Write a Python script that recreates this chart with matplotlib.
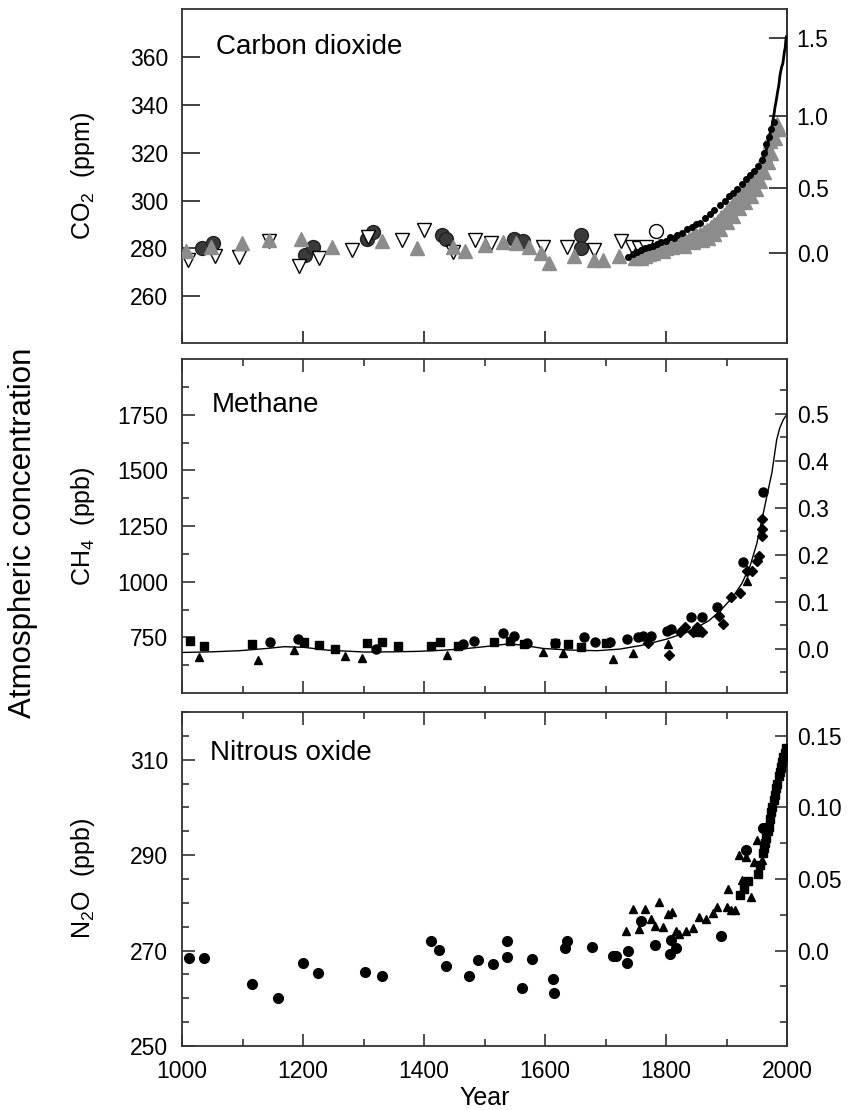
import numpy as np
import matplotlib
matplotlib.use("Agg")
import matplotlib.pyplot as plt
from matplotlib.ticker import MultipleLocator, FixedLocator

plt.rcParams['font.family'] = ['Liberation Sans', 'DejaVu Sans']
plt.rcParams['mathtext.fontset'] = 'custom'
plt.rcParams['mathtext.rm'] = 'Liberation Sans'
plt.rcParams['mathtext.it'] = 'Liberation Sans:italic'

### carbon dioxide (ppm)
co2_circ_yr = [1033, 1052, 1204, 1217, 1306, 1315, 1430, 1437, 1548, 1563, 1659, 1659]
co2_circ_ppm = [280.1, 282.2, 277.4, 280.6, 284.0, 287.0, 285.7, 284.0, 284.0, 283.3, 285.7, 280.0]
co2_open_circ_yr = [1784]
co2_open_circ_ppm = [287.1]
co2_tri_yr = [1007, 1048, 1099, 1144, 1196, 1248, 1330, 1389, 1448, 1467, 1500, 1530, 1552,
              1574, 1593, 1607, 1648, 1681, 1696, 1722, 1748, 1759, 1765, 1772, 1778, 1789,
              1795, 1800, 1805, 1810, 1815, 1820, 1826, 1832, 1838, 1845, 1850, 1856, 1862,
              1868, 1874, 1880, 1886, 1891, 1896, 1901, 1906, 1911, 1916, 1921, 1926, 1931,
              1936, 1940, 1944, 1948, 1952, 1956, 1960, 1964, 1968, 1972, 1975, 1978, 1981, 1984,
              1830, 1845, 1860, 1870, 1880, 1890, 1900, 1910, 1920, 1930, 1940, 1948, 1955,
              1962, 1968, 1974, 1980, 1986]
co2_tri_ppm = [278.8, 280.8, 282.2, 283.6, 283.9, 280.8, 282.9, 280.1, 280.8, 278.8, 281.5, 282.5, 282.2,
               280.8, 278.0, 273.9, 276.7, 275.3, 275.3, 276.9, 276.0, 276.0, 277.0, 277.5, 278.0, 281.5,
               279.0, 280.0, 281.0, 280.5, 282.0, 282.0, 283.0, 283.5, 284.0, 285.0, 285.5, 286.0, 287.0,
               287.5, 289.0, 290.0, 291.5, 293.0, 294.0, 295.5, 297.0, 298.5, 300.0, 301.5, 303.0, 304.5,
               306.0, 307.5, 309.0, 310.5, 312.0, 314.0, 316.5, 319.0, 322.0, 325.0, 328.0, 330.0, 331.0, 332.0,
               281.0, 282.5, 283.5, 284.5, 286.0, 288.0, 291.0, 293.5, 297.0, 299.5, 302.0, 305.0, 308.0,
               312.0, 316.0, 320.0, 326.0, 330.0]
co2_dtri_yr = [1010, 1054, 1095, 1144, 1193, 1227, 1281, 1307, 1363, 1400, 1448, 1485, 1511,
               1596, 1637, 1681, 1726, 1744, 1756, 1767]
co2_dtri_ppm = [275.3, 277.0, 276.4, 282.9, 272.5, 276.0, 279.4, 284.7, 283.6, 287.8, 278.5, 283.6, 282.2,
                280.8, 280.6, 279.4, 282.9, 280.8, 280.1, 280.8]
co2_dot_yr = [1737, 1745, 1752, 1759, 1766, 1772, 1778, 1785, 1792, 1800, 1807, 1813, 1819, 1826,
              1835, 1843, 1850, 1856, 1864, 1872, 1880, 1889, 1897, 1904, 1911, 1918, 1925, 1932,
              1939, 1946, 1952, 1958, 1962, 1966, 1970, 1974, 1978]
co2_dot_ppm = [276.5, 277.5, 278.5, 279.4, 280.0, 280.5, 281.0, 282.0, 282.5, 283.0, 284.6, 284.5, 285.5, 286.5,
               288.0, 289.0, 290.0, 290.8, 292.5, 294.5, 296.0, 298.3, 300.0, 301.8, 303.3, 305.0, 306.8, 308.8,
               310.8, 312.5, 314.5, 317.0, 320.0, 323.5, 326.5, 330.0, 333.0]
co2_ml_yr = list(range(1959, 2000))
co2_ml_ppm = [315.97, 316.91, 317.64, 318.45, 318.99, 319.62, 320.04, 321.38, 322.16, 323.04, 324.62,
              325.68, 326.32, 327.45, 329.68, 330.18, 331.11, 332.04, 333.83, 335.40, 336.84, 338.75,
              340.11, 341.45, 343.05, 344.65, 346.12, 347.42, 349.19, 351.57, 353.12, 354.39, 355.61,
              356.45, 357.10, 358.83, 360.82, 362.61, 363.73, 366.70, 368.38]

### methane (ppb)
ch4_line_yr = [1000, 1050, 1095, 1140, 1169, 1202, 1242, 1302, 1350, 1390, 1430, 1464, 1500, 1538,
               1560, 1597, 1640, 1686, 1723, 1760, 1801, 1834, 1856, 1871, 1890, 1910, 1925, 1939,
               1950, 1961, 1968, 1975, 1983, 1988, 1994, 2000]
ch4_line_ppb = [682, 685, 690, 700, 708, 705, 692, 684, 685, 687, 692, 698, 708, 720,
                716, 700, 693, 690, 697, 714, 742, 772, 802, 825, 870, 930, 990, 1071,
                1170, 1310, 1400, 1489, 1638, 1690, 1728, 1752]
ch4_sq_yr = [1013, 1037, 1115, 1202, 1226, 1253, 1305, 1331, 1357, 1411, 1427, 1457, 1516, 1542,
             1566, 1616, 1638, 1660, 1700]
ch4_sq_ppb = [735, 713, 720, 728, 716, 698, 723, 731, 710, 710, 728, 713, 728, 735,
              720, 725, 720, 705, 725]
ch4_circ_yr = [1145, 1192, 1320, 1464, 1483, 1531, 1549, 1571, 1616, 1664, 1682, 1707, 1735, 1754,
               1762, 1776, 1801, 1809, 1841, 1859, 1884, 1928, 1961]
ch4_circ_ppb = [731, 743, 698, 720, 735, 769, 754, 723, 725, 750, 731, 728, 742, 753,
                757, 757, 780, 787, 842, 840, 887, 1090, 1404]
ch4_tri_yr = [1028, 1126, 1185, 1270, 1298, 1438, 1596, 1630, 1712, 1745, 1804, 1852, 1934]
ch4_tri_ppb = [660, 650, 695, 668, 657, 671, 683, 680, 653, 678, 720, 772, 1001]
ch4_dia_yr = [1770, 1805, 1823, 1831, 1845, 1851, 1859, 1887, 1895, 1908, 1922, 1934, 1942, 1951,
              1954, 1958, 1959, 1959]
ch4_dia_ppb = [725, 671, 772, 795, 772, 795, 772, 847, 810, 929, 951, 1048, 1048, 1093,
               1115, 1235, 1205, 1280]

### nitrous oxide (ppb)
n2o_circ_yr = [1012, 1037, 1115, 1159, 1200, 1224, 1303, 1330, 1411, 1425, 1437, 1474, 1490, 1514,
               1537, 1538, 1562, 1579, 1613, 1615, 1633, 1636, 1677, 1712, 1718, 1736, 1738, 1758,
               1782, 1806, 1808, 1816, 1891, 1932, 1960]
n2o_circ_ppb = [268.4, 268.4, 263.0, 260.0, 267.3, 265.3, 265.6, 264.7, 272.1, 270.1, 266.7, 264.7, 268.0, 267.1,
                272.1, 268.6, 262.1, 268.2, 264.0, 261.1, 270.6, 272.1, 270.7, 268.9, 268.9, 267.3, 270.0, 276.2,
                271.2, 269.3, 272.3, 270.6, 273.1, 291.1, 295.6]
n2o_tri_yr = [1734, 1745, 1756, 1765, 1775, 1782, 1789, 1795, 1804, 1810, 1816, 1822, 1833, 1844,
              1855, 1866, 1878, 1885, 1900, 1903, 1907, 1914, 1926, 1929, 1921, 1933, 1941, 1946,
              1950, 1958]
n2o_tri_ppb = [274.1, 278.8, 274.6, 278.8, 276.6, 275.2, 280.1, 274.9, 277.7, 278.1, 274.0, 273.5, 274.2, 274.8,
               277.0, 276.7, 277.9, 279.1, 279.1, 283.0, 278.4, 278.4, 284.7, 283.7, 290.0, 289.6, 281.2, 288.6,
               293.2, 289.0]
n2o_sq_yr = [1923, 1929, 1935, 1952, 1955, 1960, 1962, 1964, 1966, 1968, 1970, 1972, 1974, 1976,
             1978, 1980, 1982, 1984, 1986, 1988, 1990, 1992, 1994, 1996, 1998]
n2o_sq_ppb = [281.6, 283.0, 284.5, 286.1, 288.0, 290.5, 291.5, 292.5, 293.5, 295.0, 296.0, 297.5, 299.0, 300.0,
              301.5, 302.5, 304.0, 305.0, 306.5, 307.5, 308.5, 309.5, 310.5, 311.5, 312.5]

tick_fs = 16.5
label_fs = 18
title_fs = 20
spine_col = '#333333'
ylab_x = -0.14

fig = plt.figure(figsize=(8.52, 11.1), dpi=100)
L, W, H = 182/852, 605/852, 334/1110
ax1 = fig.add_axes([L, 1 - 343/1110, W, H])
ax2 = fig.add_axes([L, 1 - 693/1110, W, H])
ax3 = fig.add_axes([L, 1 - 1046/1110, W, H])

for ax in (ax1, ax2, ax3):
    ax.set_xlim(1000, 2000)
    for s in ax.spines.values():
        s.set_linewidth(1.3)
        s.set_color(spine_col)

# --- carbon dioxide
ax1.plot(co2_dot_yr, co2_dot_ppm, 'o', color='black', ms=4, zorder=4)
ax1.plot(co2_tri_yr, co2_tri_ppm, '^', color='#8c8c8c', mec='#8c8c8c', ms=10, zorder=3)
ax1.plot(co2_circ_yr, co2_circ_ppm, 'o', color='#3a3a3a', mec='#222222', ms=10, zorder=2)
ax1.plot(co2_dtri_yr, co2_dtri_ppm, 'v', mfc='white', mec='black', mew=1.0, ms=10, zorder=2)
ax1.plot(co2_open_circ_yr, co2_open_circ_ppm, 'o', mfc='white', mec='black', mew=1.0, ms=10, zorder=2)
ax1.plot(co2_ml_yr, co2_ml_ppm, '-', color='black', lw=2, zorder=5)
ax1.set_ylim(240.5, 380)
ax1.yaxis.set_major_locator(FixedLocator([260, 280, 300, 320, 340, 360]))
ax1.xaxis.set_major_locator(MultipleLocator(200))
ax1.tick_params(axis='y', direction='in', length=13, width=1.3, labelsize=tick_fs, pad=10, color=spine_col)
ax1.tick_params(axis='x', direction='in', length=9, width=1.3, labelbottom=False, color=spine_col)
ax1.set_ylabel('CO$_2$  (ppm)', fontsize=label_fs)
ax1.yaxis.set_label_coords(ylab_x, 0.5)
ax1.text(0.056, 0.865, 'Carbon dioxide', transform=ax1.transAxes, fontsize=title_fs, va='baseline')
sec1 = ax1.secondary_yaxis('right', functions=(lambda c: 5.35*np.log(np.maximum(c, 1e-3)/278.0),
                                               lambda f: 278.0*np.exp(f/5.35)))
sec1.set_ticks([0.0, 0.5, 1.0, 1.5], labels=['0.0', '0.5', '1.0', '1.5'])
sec1.tick_params(direction='in', length=13, width=1.3, labelsize=tick_fs, pad=7, color=spine_col)
sec1.spines['right'].set_linewidth(1.3)
sec1.spines['right'].set_color(spine_col)

# --- methane
ax2.plot(ch4_line_yr, ch4_line_ppb, '-', color='black', lw=1.0, zorder=2)
ax2.plot(ch4_sq_yr, ch4_sq_ppb, 's', color='black', ms=6, zorder=3)
ax2.plot(ch4_circ_yr, ch4_circ_ppb, 'o', color='black', ms=6.5, zorder=3)
ax2.plot(ch4_tri_yr, ch4_tri_ppb, '^', color='black', ms=6, zorder=3)
ax2.plot(ch4_dia_yr, ch4_dia_ppb, 'D', color='black', ms=5, zorder=3)
ax2.set_ylim(500, 2000)
ax2.yaxis.set_major_locator(FixedLocator([750, 1000, 1250, 1500, 1750]))
ax2.yaxis.set_minor_locator(FixedLocator([625, 875, 1125, 1375, 1625, 1875]))
ax2.xaxis.set_major_locator(MultipleLocator(200))
ax2.xaxis.set_minor_locator(MultipleLocator(100))
ax2.tick_params(which='major', direction='in', length=9, width=1.2, labelsize=tick_fs,
                top=True, labelbottom=False, pad=10, color=spine_col)
ax2.tick_params(which='minor', direction='in', length=5, width=1.2, top=True, color=spine_col)
ax2.set_ylabel('CH$_4$  (ppb)', fontsize=label_fs)
ax2.yaxis.set_label_coords(ylab_x, 0.5)
ax2.text(0.05, 0.841, 'Methane', transform=ax2.transAxes, fontsize=title_fs, va='baseline')
sec2 = ax2.secondary_yaxis('right', functions=(lambda m: (m - 698.0)/2112.0,
                                               lambda f: 698.0 + 2112.0*f))
sec2.set_ticks([0.0, 0.1, 0.2, 0.3, 0.4, 0.5])
sec2.yaxis.set_minor_locator(FixedLocator([-0.05, 0.05, 0.15, 0.25, 0.35, 0.45, 0.55]))
sec2.tick_params(which='major', direction='in', length=9, width=1.2, labelsize=tick_fs, pad=7, color=spine_col)
sec2.tick_params(which='minor', direction='in', length=5, width=1.2, color=spine_col)
sec2.spines['right'].set_linewidth(1.3)
sec2.spines['right'].set_color(spine_col)

# --- nitrous oxide
ax3.plot(n2o_circ_yr, n2o_circ_ppb, 'o', color='black', ms=7, zorder=3)
ax3.plot(n2o_tri_yr, n2o_tri_ppb, '^', color='black', ms=5.5, zorder=3)
ax3.plot(n2o_sq_yr, n2o_sq_ppb, 's', color='black', ms=6, zorder=3)
ax3.set_ylim(250, 320)
ax3.yaxis.set_major_locator(FixedLocator([250, 270, 290, 310]))
ax3.yaxis.set_minor_locator(MultipleLocator(5))
ax3.xaxis.set_major_locator(MultipleLocator(200))
ax3.xaxis.set_minor_locator(MultipleLocator(100))
ax3.tick_params(which='major', direction='in', length=9, width=1.2, labelsize=tick_fs,
                top=True, pad=10, color=spine_col)
ax3.tick_params(which='minor', direction='in', length=5, width=1.2, top=True, color=spine_col)
ax3.set_ylabel('N$_2$O  (ppb)', fontsize=label_fs)
ax3.yaxis.set_label_coords(ylab_x, 0.5)
ax3.set_xlabel('Year', fontsize=label_fs, labelpad=2)
ax3.text(0.046, 0.856, 'Nitrous oxide', transform=ax3.transAxes, fontsize=title_fs, va='baseline')
sec3 = ax3.secondary_yaxis('right', functions=(lambda n: (n - 270.0)/300.0,
                                               lambda f: 270.0 + 300.0*f))
sec3.set_ticks([0.0, 0.05, 0.10, 0.15], labels=['0.0', '0.05', '0.10', '0.15'])
sec3.yaxis.set_minor_locator(FixedLocator([-0.075, -0.05, -0.025, 0.025, 0.075, 0.125]))
sec3.tick_params(which='major', direction='in', length=9, width=1.2, labelsize=tick_fs, pad=7, color=spine_col)
sec3.tick_params(which='minor', direction='in', length=5, width=1.2, color=spine_col)
sec3.spines['right'].set_linewidth(1.3)
sec3.spines['right'].set_color(spine_col)

fig.text(0.027, 1 - 533/1110, 'Atmospheric concentration', rotation=90,
         fontsize=22.5, ha='center', va='center')

fig.savefig('out.png', dpi=100)
